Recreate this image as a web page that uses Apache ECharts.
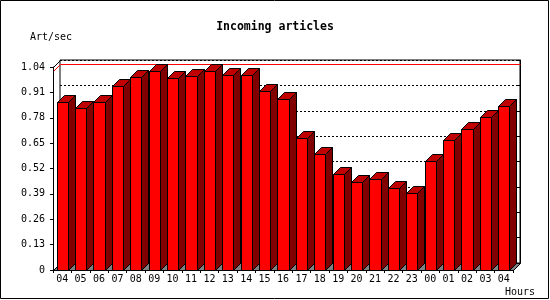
<!DOCTYPE html>
<html>
<head>
<meta charset="utf-8">
<script src="https://cdn.jsdelivr.net/npm/echarts@6/dist/echarts.min.js"></script>
<style>
html,body{margin:0;padding:0;background:#fff;}
#chart{width:550px;height:300px;}
</style>
</head>
<body>
<div id="chart"></div>
<script>
// ---- data ----
const hours = ['04','05','06','07','08','09','10','11','12','13','14','15','16','17','18','19','20','21','22','23','00','01','02','03','04'];
const artPerSec = [0.863,0.829,0.863,0.941,0.987,1.017,0.982,0.992,1.017,0.997,0.997,0.915,0.875,0.678,0.596,0.493,0.452,0.467,0.421,0.395,0.560,0.668,0.724,0.783,0.839];
const yTickLabels = ['0','0.13','0.26','0.39','0.52','0.65','0.78','0.91','1.04'];
const yStep = 0.13;
const yMax = 1.04;

// ---- style constants ----
const D = 7;            // 3D depth in px
const BAR_RATIO = 0.6;
const FONT = 'DejaVu Sans Mono';

const maxVal = Math.max.apply(null, artPerSec);
const seriesData = artPerSec.map((v, i) => [i, v]);

function px(v) { return Math.round(v) + 0.5; }

function renderBar(params, api) {
  const idx = api.value(0), v = api.value(1);
  const top = api.coord([idx, v]);
  const base = api.coord([idx, 0]);
  const w = api.size([1, 0])[0] * BAR_RATIO;
  const x0 = px(top[0] - w / 2), x1 = px(top[0] + w / 2);
  const yt = px(top[1]), yb = px(base[1]);
  const stroke = {stroke: '#000', lineWidth: 1};
  return {
    type: 'group',
    children: [
      {type: 'polygon', shape: {points: [[x1, yb], [x1 + D, yb - D], [x1 + D, yt - D], [x1, yt]]},
       style: Object.assign({fill: '#800000'}, stroke)},
      {type: 'polygon', shape: {points: [[x0, yt], [x0 + D, yt - D], [x1 + D, yt - D], [x1, yt]]},
       style: Object.assign({fill: '#c00000'}, stroke)},
      {type: 'rect', shape: {x: x0, y: yt, width: x1 - x0, height: yb - yt},
       style: Object.assign({fill: '#ff0000'}, stroke)}
    ]
  };
}

function renderDecor(params, api) {
  const cs = params.coordSys;
  const L = px(cs.x), R = px(cs.x + cs.width), T = px(cs.y), B = px(cs.y + cs.height);
  const ym = px(api.coord([0, api.value(1)])[1]);
  return {
    type: 'group',
    children: [
      // floor
      {type: 'polygon', shape: {points: [[L, B], [L + D, B - D], [R + D, B - D], [R, B]]},
       style: {fill: '#808080', stroke: '#000', lineWidth: 1}},
      // side wall top edge
      {type: 'line', shape: {x1: L, y1: T, x2: L + D, y2: T - D}, style: {stroke: '#000', lineWidth: 1}},
      // max line (red) on side wall and back wall
      {type: 'polyline', shape: {points: [[L, ym], [L + D, ym - D], [R + D, ym - D]]},
       style: {stroke: '#ff0000', lineWidth: 1, fill: null}}
    ]
  };
}

const chart = echarts.init(document.getElementById('chart'), null, {renderer: 'canvas'});
chart.setOption({
  backgroundColor: '#fff',
  animation: false,
  title: {
    text: 'Incoming articles', left: 'center', top: 21, padding: 0,
    textStyle: {fontFamily: FONT, fontSize: 11.5, fontWeight: 'bold', color: '#000'}
  },
  graphic: [
    {type: 'rect', shape: {x: 0.5, y: 0.5, width: 548, height: 298}, style: {fill: null, stroke: '#000', lineWidth: 1}, z: 100},
    {type: 'text', x: 30, y: 37, style: {text: 'Art/sec', font: '10px ' + FONT, fill: '#000', verticalAlign: 'middle'}},
    {type: 'text', x: 505, y: 292, style: {text: 'Hours', font: '10px ' + FONT, fill: '#000', verticalAlign: 'middle'}}
  ],
  grid: [
    {left: 53, right: 37, top: 67, bottom: 30},
    {left: 60, right: 30, top: 60, bottom: 37, show: true, borderColor: '#000', borderWidth: 1, backgroundColor: '#fff', z: 0}
  ],
  xAxis: [
    {type: 'category', gridIndex: 0, data: hours, boundaryGap: true,
     axisLine: {lineStyle: {color: '#000', width: 1}},
     axisTick: {show: true, length: 3, lineStyle: {color: '#000'}},
     axisLabel: {interval: 0, margin: 4, color: '#000', fontFamily: FONT, fontSize: 10},
     splitLine: {show: false}, z: 5},
    {type: 'category', gridIndex: 1, data: hours, show: false}
  ],
  yAxis: [
    {type: 'value', gridIndex: 0, min: 0, max: yMax, interval: yStep,
     axisLine: {show: true, lineStyle: {color: '#000', width: 1}},
     axisTick: {show: true, length: 3, lineStyle: {color: '#000'}},
     axisLabel: {margin: 8, color: '#000', fontFamily: FONT, fontSize: 10,
       formatter: v => yTickLabels[Math.round(v / yStep)]},
     splitLine: {show: false}, z: 5},
    {type: 'value', gridIndex: 1, min: 0, max: yMax, interval: yStep, position: 'right',
     axisLine: {show: true, lineStyle: {color: '#000', width: 1}},
     axisTick: {show: true, inside: true, length: 3, lineStyle: {color: '#000'}},
     axisLabel: {show: false},
     splitLine: {show: true, lineStyle: {color: '#000', width: 1, type: [2, 2]}}, z: 0}
  ],
  series: [
    {type: 'custom', xAxisIndex: 0, yAxisIndex: 0, z: 1, silent: true,
     data: [[0, maxVal]], renderItem: renderDecor},
    {type: 'custom', xAxisIndex: 0, yAxisIndex: 0, z: 3,
     data: seriesData, renderItem: renderBar, encode: {x: 0, y: 1}}
  ]
});
</script>
</body>
</html>
